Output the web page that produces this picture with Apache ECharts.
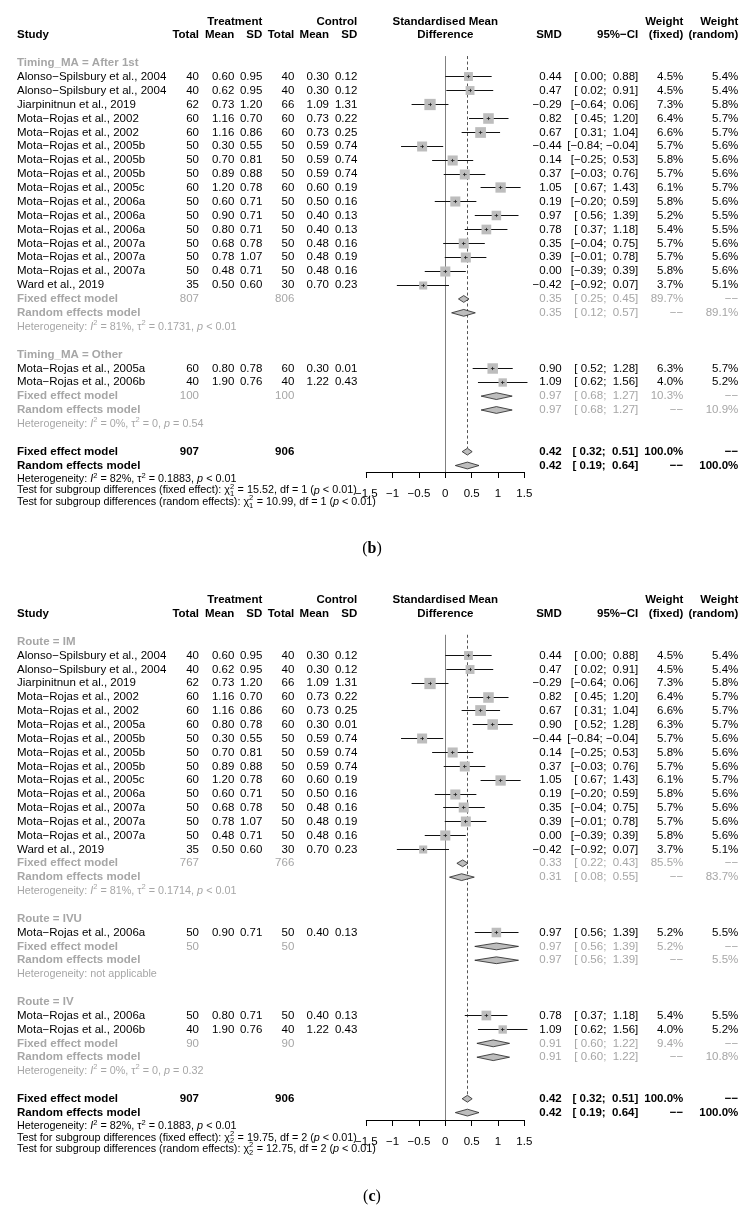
<!DOCTYPE html>
<html><head><meta charset="utf-8">
<script src="https://cdn.jsdelivr.net/npm/echarts@6/dist/echarts.min.js"></script>
<style>html,body{margin:0;padding:0;background:#fff}#c{width:756px;height:1217px}</style>
</head><body><div id="c"></div>
<script>
// ================= DATA: panel (b) =================
const studyB = ['Alonso−Spilsbury et al., 2004','Alonso−Spilsbury et al., 2004','Jiarpinitnun et al., 2019','Mota−Rojas et al., 2002','Mota−Rojas et al., 2002','Mota−Rojas et al., 2005b','Mota−Rojas et al., 2005b','Mota−Rojas et al., 2005b','Mota−Rojas et al., 2005c','Mota−Rojas et al., 2006a','Mota−Rojas et al., 2006a','Mota−Rojas et al., 2006a','Mota−Rojas et al., 2007a','Mota−Rojas et al., 2007a','Mota−Rojas et al., 2007a','Ward et al., 2019','Mota−Rojas et al., 2005a','Mota−Rojas et al., 2006b'];
const groupB = [0,0,0,0,0,0,0,0,0,0,0,0,0,0,0,0,1,1];
const trtTotalB = [40,40,62,60,60,50,50,50,60,50,50,50,50,50,50,35,60,40];
const trtMeanB = [0.60,0.62,0.73,1.16,1.16,0.30,0.70,0.89,1.20,0.60,0.90,0.80,0.68,0.78,0.48,0.50,0.80,1.90];
const trtSdB = [0.95,0.95,1.20,0.70,0.86,0.55,0.81,0.88,0.78,0.71,0.71,0.71,0.78,1.07,0.71,0.60,0.78,0.76];
const ctlTotalB = [40,40,66,60,60,50,50,50,60,50,50,50,50,50,50,30,60,40];
const ctlMeanB = [0.30,0.30,1.09,0.73,0.73,0.59,0.59,0.59,0.60,0.50,0.40,0.40,0.48,0.48,0.48,0.70,0.30,1.22];
const ctlSdB = [0.12,0.12,1.31,0.22,0.25,0.74,0.74,0.74,0.19,0.16,0.13,0.13,0.16,0.19,0.16,0.23,0.01,0.43];
const smdB = [0.44,0.47,-0.29,0.82,0.67,-0.44,0.14,0.37,1.05,0.19,0.97,0.78,0.35,0.39,0.00,-0.42,0.90,1.09];
const lowerB = [0.00,0.02,-0.64,0.45,0.31,-0.84,-0.25,-0.03,0.67,-0.20,0.56,0.37,-0.04,-0.01,-0.39,-0.92,0.52,0.62];
const upperB = [0.88,0.91,0.06,1.20,1.04,-0.04,0.53,0.76,1.43,0.59,1.39,1.18,0.75,0.78,0.39,0.07,1.28,1.56];
const wFixedB = [4.5,4.5,7.3,6.4,6.6,5.7,5.8,5.7,6.1,5.8,5.2,5.4,5.7,5.7,5.8,3.7,6.3,4.0];
const wRandomB = [5.4,5.4,5.8,5.7,5.7,5.6,5.6,5.6,5.7,5.6,5.5,5.5,5.6,5.6,5.6,5.1,5.7,5.2];
const groupLabelB = ['Timing_MA = After 1st','Timing_MA = Other'];
const grpTrtTotalB = [807,100];
const grpCtlTotalB = [806,100];
const grpFixedB = [[0.35,0.25,0.45],[0.97,0.68,1.27]];
const grpRandomB = [[0.35,0.12,0.57],[0.97,0.68,1.27]];
const grpWFixedB = [89.7,10.3];
const grpWRandomB = [89.1,10.9];
const grpI2B = ['81%','0%'];
const grpTau2B = ['0.1731','0'];
const grpPB = ['< 0.01','= 0.54'];
const totalsB = [907,906];
const overallFixedB = [0.42,0.32,0.51];
const overallRandomB = [0.42,0.19,0.64];
const overallHetB = ['82%','0.1883','< 0.01'];
const subgroupTestB = [['fixed effect','15.52','1','< 0.01'],['random effects','10.99','1','< 0.01']];

// ================= DATA: panel (c) =================
const studyC = ['Alonso−Spilsbury et al., 2004','Alonso−Spilsbury et al., 2004','Jiarpinitnun et al., 2019','Mota−Rojas et al., 2002','Mota−Rojas et al., 2002','Mota−Rojas et al., 2005a','Mota−Rojas et al., 2005b','Mota−Rojas et al., 2005b','Mota−Rojas et al., 2005b','Mota−Rojas et al., 2005c','Mota−Rojas et al., 2006a','Mota−Rojas et al., 2007a','Mota−Rojas et al., 2007a','Mota−Rojas et al., 2007a','Ward et al., 2019','Mota−Rojas et al., 2006a','Mota−Rojas et al., 2006a','Mota−Rojas et al., 2006b'];
const groupC = [0,0,0,0,0,0,0,0,0,0,0,0,0,0,0,1,2,2];
const trtTotalC = [40,40,62,60,60,60,50,50,50,60,50,50,50,50,35,50,50,40];
const trtMeanC = [0.60,0.62,0.73,1.16,1.16,0.80,0.30,0.70,0.89,1.20,0.60,0.68,0.78,0.48,0.50,0.90,0.80,1.90];
const trtSdC = [0.95,0.95,1.20,0.70,0.86,0.78,0.55,0.81,0.88,0.78,0.71,0.78,1.07,0.71,0.60,0.71,0.71,0.76];
const ctlTotalC = [40,40,66,60,60,60,50,50,50,60,50,50,50,50,30,50,50,40];
const ctlMeanC = [0.30,0.30,1.09,0.73,0.73,0.30,0.59,0.59,0.59,0.60,0.50,0.48,0.48,0.48,0.70,0.40,0.40,1.22];
const ctlSdC = [0.12,0.12,1.31,0.22,0.25,0.01,0.74,0.74,0.74,0.19,0.16,0.16,0.19,0.16,0.23,0.13,0.13,0.43];
const smdC = [0.44,0.47,-0.29,0.82,0.67,0.90,-0.44,0.14,0.37,1.05,0.19,0.35,0.39,0.00,-0.42,0.97,0.78,1.09];
const lowerC = [0.00,0.02,-0.64,0.45,0.31,0.52,-0.84,-0.25,-0.03,0.67,-0.20,-0.04,-0.01,-0.39,-0.92,0.56,0.37,0.62];
const upperC = [0.88,0.91,0.06,1.20,1.04,1.28,-0.04,0.53,0.76,1.43,0.59,0.75,0.78,0.39,0.07,1.39,1.18,1.56];
const wFixedC = [4.5,4.5,7.3,6.4,6.6,6.3,5.7,5.8,5.7,6.1,5.8,5.7,5.7,5.8,3.7,5.2,5.4,4.0];
const wRandomC = [5.4,5.4,5.8,5.7,5.7,5.7,5.6,5.6,5.6,5.7,5.6,5.6,5.6,5.6,5.1,5.5,5.5,5.2];
const groupLabelC = ['Route = IM','Route = IVU','Route = IV'];
const grpTrtTotalC = [767,50,90];
const grpCtlTotalC = [766,50,90];
const grpFixedC = [[0.33,0.22,0.43],[0.97,0.56,1.39],[0.91,0.60,1.22]];
const grpRandomC = [[0.31,0.08,0.55],[0.97,0.56,1.39],[0.91,0.60,1.22]];
const grpWFixedC = [85.5,5.2,9.4];
const grpWRandomC = [83.7,5.5,10.8];
const grpI2C = ['81%',null,'0%'];
const grpTau2C = ['0.1714',null,'0'];
const grpPC = ['< 0.01',null,'= 0.32'];
const totalsC = [907,906];
const overallFixedC = [0.42,0.32,0.51];
const overallRandomC = [0.42,0.19,0.64];
const overallHetC = ['82%','0.1883','< 0.01'];
const subgroupTestC = [['fixed effect','19.75','2','< 0.01'],['random effects','12.75','2','< 0.01']];

// header / tick labels
const headerTop = [['tSd','Treatment'],['cSd','Control'],['center','Standardised Mean'],['wf','Weight'],['wr','Weight']];
const headerBottom = [['study','Study'],['tTot','Total'],['tMean','Mean'],['tSd','SD'],['cTot','Total'],['cMean','Mean'],['cSd','SD'],['center','Difference'],['smd','SMD'],['ci','95%−CI'],['wf','(fixed)'],['wr','(random)']];
const xTicks = [-1.5, 1.5, 0.5];
const panelLabels = ['b','c'];

// ================= LAYOUT =================
const FAM = '"Liberation Sans", Arial, Helvetica, sans-serif';
const FS = 11.5, FS_SMALL = 10.8;
const GREY = '#a6a6a6';
const COL = {study:17, tTot:199, tMean:234.3, tSd:262.3, cTot:294.3, cMean:329, cSd:357.3, smd:561.7, ci:638.3, wf:683.3, wr:738.3};
const PLOT_LEFT = 366.3, PLOT_W = 158;
const LAY = [
  {row0:63, step:13.88, axisY:472, labelY:549},
  {row0:641.7, step:13.85, axisY:1120, labelY:1197}
];
const MINUS = '\u2212';
const fnt = (s, b, it) => (it ? 'italic ' : '') + (b ? 'bold ' : '') + s + 'px ' + FAM;
const fmtN = v => (v < 0 ? MINUS : '') + Math.abs(v).toFixed(2);
const padN = v => (v < 0 ? '' : ' ') + fmtN(v);
const ciStr = (lo, hi) => '[' + padN(lo) + '; ' + padN(hi) + ']';
const pct = w => w.toFixed(1) + '%';
const DASH2 = MINUS + MINUS;

const mctx = document.createElement('canvas').getContext('2d');
function tw(t, f) { mctx.font = f; return mctx.measureText(t).width; }

function hetSegs(i2, tau2, p) {
  if (i2 == null) return [{t:'Heterogeneity: not applicable'}];
  return [{t:'Heterogeneity: '},{t:'I',it:true},{t:'2',sup:true},{t:' = ' + i2 + ', '},{t:'τ'},{t:'2',sup:true},{t:' = ' + tau2 + ', '},{t:'p',it:true},{t:' ' + p}];
}
function testSegs(tst) {
  return [{t:'Test for subgroup differences (' + tst[0] + '): χ'},{stack:['2', tst[2]]},{t:' = ' + tst[1] + ', df = ' + tst[2] + ' ('},{t:'p',it:true},{t:' ' + tst[3] + ')'}];
}

function buildPanel(d) {
  const texts = [], studies = [], diamonds = [];
  headerTop.forEach(h => texts.push({row:-3, col:h[0], t:h[1], bold:true}));
  headerBottom.forEach(h => texts.push({row:-2, col:h[0], t:h[1], bold:true}));
  let r = 0;
  d.groupLabel.forEach((lab, g) => {
    texts.push({row:r, col:'study', t:lab, bold:true, color:GREY}); r++;
    d.study.forEach((s, i) => {
      if (d.group[i] !== g) return;
      texts.push({row:r, col:'study', t:s});
      texts.push({row:r, col:'tTot', t:String(d.trtTotal[i])});
      texts.push({row:r, col:'tMean', t:d.trtMean[i].toFixed(2)});
      texts.push({row:r, col:'tSd', t:d.trtSd[i].toFixed(2)});
      texts.push({row:r, col:'cTot', t:String(d.ctlTotal[i])});
      texts.push({row:r, col:'cMean', t:d.ctlMean[i].toFixed(2)});
      texts.push({row:r, col:'cSd', t:d.ctlSd[i].toFixed(2)});
      texts.push({row:r, col:'smd', t:fmtN(d.smd[i])});
      texts.push({row:r, col:'ci', t:ciStr(d.lower[i], d.upper[i])});
      texts.push({row:r, col:'wf', t:pct(d.wFixed[i])});
      texts.push({row:r, col:'wr', t:pct(d.wRandom[i])});
      studies.push([d.smd[i], d.lower[i], d.upper[i], d.wFixed[i], r]);
      r++;
    });
    const f = d.grpFixed[g], rd = d.grpRandom[g];
    texts.push({row:r, col:'study', t:'Fixed effect model', bold:true, color:GREY});
    texts.push({row:r, col:'tTot', t:String(d.grpTrtTotal[g]), color:GREY});
    texts.push({row:r, col:'cTot', t:String(d.grpCtlTotal[g]), color:GREY});
    texts.push({row:r, col:'smd', t:fmtN(f[0]), color:GREY});
    texts.push({row:r, col:'ci', t:ciStr(f[1], f[2]), color:GREY});
    texts.push({row:r, col:'wf', t:pct(d.grpWFixed[g]), color:GREY});
    texts.push({row:r, col:'wr', t:DASH2, color:GREY});
    diamonds.push([f[0], f[1], f[2], r]); r++;
    texts.push({row:r, col:'study', t:'Random effects model', bold:true, color:GREY});
    texts.push({row:r, col:'smd', t:fmtN(rd[0]), color:GREY});
    texts.push({row:r, col:'ci', t:ciStr(rd[1], rd[2]), color:GREY});
    texts.push({row:r, col:'wf', t:DASH2, color:GREY});
    texts.push({row:r, col:'wr', t:pct(d.grpWRandom[g]), color:GREY});
    diamonds.push([rd[0], rd[1], rd[2], r]); r++;
    texts.push({row:r, col:'study', segs:hetSegs(d.grpI2[g], d.grpTau2[g], d.grpP[g]), color:GREY, size:FS_SMALL}); r++;
    r++;
  });
  const of = d.overallFixed, orr = d.overallRandom;
  const fixedRow = r;
  texts.push({row:r, col:'study', t:'Fixed effect model', bold:true});
  texts.push({row:r, col:'tTot', t:String(d.totals[0]), bold:true});
  texts.push({row:r, col:'cTot', t:String(d.totals[1]), bold:true});
  texts.push({row:r, col:'smd', t:fmtN(of[0]), bold:true});
  texts.push({row:r, col:'ci', t:ciStr(of[1], of[2]), bold:true});
  texts.push({row:r, col:'wf', t:'100.0%', bold:true});
  texts.push({row:r, col:'wr', t:DASH2, bold:true});
  diamonds.push([of[0], of[1], of[2], r]); r++;
  texts.push({row:r, col:'study', t:'Random effects model', bold:true});
  texts.push({row:r, col:'smd', t:fmtN(orr[0]), bold:true});
  texts.push({row:r, col:'ci', t:ciStr(orr[1], orr[2]), bold:true});
  texts.push({row:r, col:'wf', t:DASH2, bold:true});
  texts.push({row:r, col:'wr', t:'100.0%', bold:true});
  diamonds.push([orr[0], orr[1], orr[2], r]); r++;
  texts.push({row:r, col:'study', segs:hetSegs(d.overallHet[0], d.overallHet[1], d.overallHet[2]), size:FS_SMALL});
  texts.push({row:r + 0.8, col:'study', segs:testSegs(d.tests[0]), size:FS_SMALL});
  texts.push({row:r + 1.63, col:'study', segs:testSegs(d.tests[1]), size:FS_SMALL});
  const refs = [[0, -0.5, null], [of[0], -0.5, fixedRow - 0.26]];
  return {texts, studies, diamonds, refs};
}

const panels = [
  buildPanel({study:studyB, group:groupB, trtTotal:trtTotalB, trtMean:trtMeanB, trtSd:trtSdB, ctlTotal:ctlTotalB, ctlMean:ctlMeanB, ctlSd:ctlSdB, smd:smdB, lower:lowerB, upper:upperB, wFixed:wFixedB, wRandom:wRandomB, groupLabel:groupLabelB, grpTrtTotal:grpTrtTotalB, grpCtlTotal:grpCtlTotalB, grpFixed:grpFixedB, grpRandom:grpRandomB, grpWFixed:grpWFixedB, grpWRandom:grpWRandomB, grpI2:grpI2B, grpTau2:grpTau2B, grpP:grpPB, totals:totalsB, overallFixed:overallFixedB, overallRandom:overallRandomB, overallHet:overallHetB, tests:subgroupTestB}),
  buildPanel({study:studyC, group:groupC, trtTotal:trtTotalC, trtMean:trtMeanC, trtSd:trtSdC, ctlTotal:ctlTotalC, ctlMean:ctlMeanC, ctlSd:ctlSdC, smd:smdC, lower:lowerC, upper:upperC, wFixed:wFixedC, wRandom:wRandomC, groupLabel:groupLabelC, grpTrtTotal:grpTrtTotalC, grpCtlTotal:grpCtlTotalC, grpFixed:grpFixedC, grpRandom:grpRandomC, grpWFixed:grpWFixedC, grpWRandom:grpWRandomC, grpI2:grpI2C, grpTau2:grpTau2C, grpP:grpPC, totals:totalsC, overallFixed:overallFixedC, overallRandom:overallRandomC, overallHet:overallHetC, tests:subgroupTestC})
];

const crisp = v => Math.round(v - 0.5) + 0.5;
function txtEl(t, x, y, font, fill, align) {
  return {type:'text', x:x, y:y, silent:true, style:{legacy:false, text:t, font:font, fill:fill, align:align, verticalAlign:'middle'}};
}

const grids = [], xAxes = [], yAxes = [], series = [];
panels.forEach((P, pi) => {
  const L = LAY[pi];
  const yMin = -4, yMax = (L.axisY - L.row0) / L.step;
  grids.push({left:PLOT_LEFT, width:PLOT_W, top:L.row0 + yMin * L.step, height:(yMax - yMin) * L.step, containLabel:false, outerBoundsMode:'none'});
  xAxes.push({gridIndex:pi, type:'value', min:xTicks[0], max:xTicks[1], interval:xTicks[2],
    axisLine:{show:true, onZero:false, lineStyle:{color:'#000', width:1}},
    axisTick:{show:true, length:6, lineStyle:{color:'#000', width:1}},
    axisLabel:{color:'#000', fontSize:FS, fontFamily:'Liberation Sans', margin:16,
      formatter: v => (v < 0 ? MINUS : '') + String(Math.abs(v))},
    splitLine:{show:false}});
  yAxes.push({gridIndex:pi, type:'value', inverse:true, min:yMin, max:yMax, show:false});

  // reference lines
  series.push({type:'custom', xAxisIndex:pi, yAxisIndex:pi, clip:false, silent:true, z:1,
    data:P.refs.map(r => [r[0], r[1], r[2] == null ? yMax : r[2]]),
    encode:{x:0, y:[1,2]},
    renderItem:(params, api) => {
      const x = crisp(api.coord([api.value(0), 0])[0]);
      const y1 = api.coord([0, api.value(1)])[1], y2 = api.coord([0, api.value(2)])[1];
      const dashed = params.dataIndex === 1;
      return {type:'line', shape:{x1:x, y1:y1, x2:x, y2:y2},
        style:{stroke: dashed ? '#555' : '#808080', lineWidth:1, lineDash: dashed ? [3,2.5] : null}};
    }});
  // study squares + CIs
  series.push({type:'custom', xAxisIndex:pi, yAxisIndex:pi, clip:false, silent:true, z:2,
    data:P.studies, encode:{x:[0,1,2], y:4},
    renderItem:(params, api) => {
      const y = crisp(api.coord([0, api.value(4)])[1]);
      const xe = api.coord([api.value(0), 0])[0];
      const xl = api.coord([api.value(1), 0])[0];
      const xh = api.coord([api.value(2), 0])[0];
      const side = 4.18 * Math.sqrt(api.value(3));
      return {type:'group', children:[
        {type:'line', shape:{x1:xl, y1:y, x2:xh, y2:y}, style:{stroke:'#111', lineWidth:1}},
        {type:'rect', shape:{x:xe - side/2, y:y - side/2, width:side, height:side}, style:{fill:'#bdbdbd'}},
        {type:'line', shape:{x1:xe - 1.8, y1:y, x2:xe + 1.8, y2:y}, style:{stroke:'#222', lineWidth:0.8}},
        {type:'line', shape:{x1:crisp(xe), y1:y - 1.6, x2:crisp(xe), y2:y + 1.6}, style:{stroke:'#222', lineWidth:0.8}}
      ]};
    }});
  // diamonds
  series.push({type:'custom', xAxisIndex:pi, yAxisIndex:pi, clip:false, silent:true, z:3,
    data:P.diamonds, encode:{x:[0,1,2], y:3},
    renderItem:(params, api) => {
      const y = api.coord([0, api.value(3)])[1];
      const xe = api.coord([api.value(0), 0])[0];
      const xl = api.coord([api.value(1), 0])[0];
      const xh = api.coord([api.value(2), 0])[0];
      const h = 3.4;
      return {type:'polygon', shape:{points:[[xl, y], [xe, y - h], [xh, y], [xe, y + h]]},
        style:{fill:'#bdbdbd', stroke:'#222', lineWidth:0.8}};
    }});
  // table text
  series.push({type:'custom', xAxisIndex:pi, yAxisIndex:pi, clip:false, silent:true, z:4,
    data:P.texts.map(t => [0, t.row]), encode:{x:0, y:1},
    renderItem:(params, api) => {
      const t = P.texts[params.dataIndex];
      const y = api.coord([0, api.value(1)])[1];
      const color = t.color || '#000';
      const size = t.size || FS;
      if (t.segs) {
        const kids = []; let x = COL.study;
        t.segs.forEach(s => {
          if (s.stack) {
            const f = fnt(size * 0.7, false, false);
            kids.push(txtEl(s.stack[0], x, y - size * 0.36, f, color, 'left'));
            kids.push(txtEl(s.stack[1], x, y + size * 0.34, f, color, 'left'));
            x += Math.max(tw(s.stack[0], f), tw(s.stack[1], f)) + 0.5;
            return;
          }
          const sz = s.sup ? size * 0.7 : size;
          const f = fnt(sz, false, !!s.it);
          kids.push(txtEl(s.t, x, s.sup ? y - size * 0.36 : y, f, color, 'left'));
          x += tw(s.t, f);
        });
        return {type:'group', children:kids};
      }
      let x, align;
      if (t.col === 'center') { x = api.coord([0, 0])[0]; align = 'center'; }
      else { x = COL[t.col]; align = t.col === 'study' ? 'left' : 'right'; }
      return txtEl(t.t, x, y, fnt(size, !!t.bold, false), color, align);
    }});
});

const graphics = panelLabels.map((lab, i) => ({
  type:'text', x:372, y:LAY[i].labelY, silent:true,
  style:{legacy:false, text:'{n|(}{b|' + lab + '}{n|)}', align:'center', verticalAlign:'middle',
    rich:{n:{fontFamily:'"Liberation Serif", serif', fontSize:16, fill:'#000'},
          b:{fontFamily:'"Liberation Serif", serif', fontSize:16, fontWeight:'bold', fill:'#000'}}}
}));

const chart = echarts.init(document.getElementById('c'), null, {renderer:'canvas', width:756, height:1217});
chart.setOption({
  animation:false,
  backgroundColor:'#fff',
  grid:grids, xAxis:xAxes, yAxis:yAxes, series:series, graphic:graphics
});
</script>
</body></html>
